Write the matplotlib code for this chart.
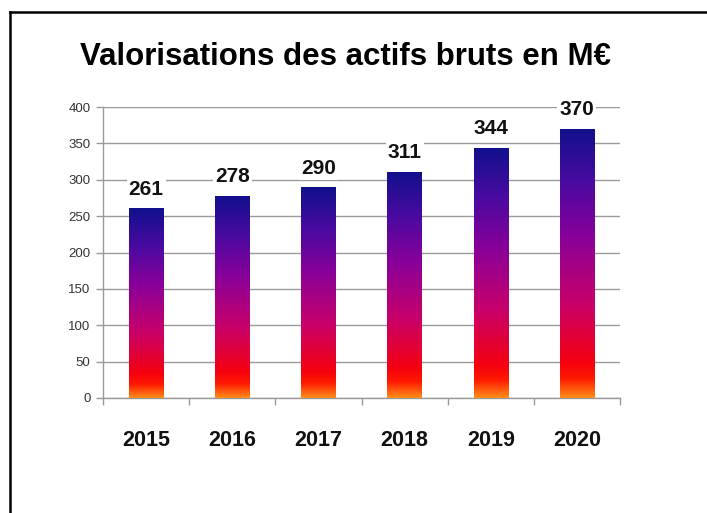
import numpy as np
import matplotlib
matplotlib.use("Agg")
import matplotlib.pyplot as plt
from matplotlib.colors import LinearSegmentedColormap
from matplotlib.lines import Line2D

years = ["2015", "2016", "2017", "2018", "2019", "2020"]
values = [261, 278, 290, 311, 344, 370]
title = "Valorisations des actifs bruts en M€"

W, H = 707, 513
fig = plt.figure(figsize=(W / 100, H / 100), dpi=100)
fig.patch.set_facecolor("white")

narrow = ["Liberation Sans Narrow", "Liberation Sans", "DejaVu Sans"]

ax = fig.add_axes([103 / W, 1 - 398 / H, 517 / W, 291 / H])
ax.set_xlim(-0.5, len(years) - 0.5)
ax.set_ylim(0, 400)

cmap = LinearSegmentedColormap.from_list(
    "grad",
    [(0.0, "#ff8c1a"), (0.07, "#ff1a00"), (0.13, "#f50010"),
     (0.35, "#c8006a"), (0.6, "#88009a"), (0.8, "#4a0aa0"), (1.0, "#10108c")],
)
grad = np.linspace(0, 1, 256).reshape(-1, 1)

x = np.arange(len(years))
bw = 0.4
bars = ax.bar(x, values, width=bw, color="none", edgecolor="none", zorder=3)
for b, v in zip(bars, values):
    im = ax.imshow(grad, cmap=cmap, origin="lower", aspect="auto",
                   extent=[b.get_x(), b.get_x() + b.get_width(), 0, v],
                   zorder=3, interpolation="bilinear")
    im.set_clip_path(b)
    ax.text(b.get_x() + b.get_width() / 2, v + 26, str(v), ha="center", va="center",
            fontsize=15, fontweight="bold", family=narrow, color="#111111", zorder=5,
            bbox=dict(facecolor="white", edgecolor="none", pad=1.5))
ax.set_xlim(-0.5, len(years) - 0.5)
ax.set_ylim(0, 400)

ax.set_yticks(np.arange(0, 401, 50))
ax.yaxis.grid(True, color="#9a9a9a", linewidth=1.0, zorder=0)
ax.set_axisbelow(True)
ax.tick_params(axis="y", length=5, width=1, color="#9a9a9a", pad=4,
               labelsize=9.5, labelcolor="#333333")
for lab in ax.get_yticklabels():
    lab.set_family(["Liberation Sans", "DejaVu Sans"])

ax.set_xticks(x)
ax.set_xticklabels(years, fontsize=15.5, fontweight="bold", family=narrow, color="#111111")
ax.tick_params(axis="x", which="major", length=0, pad=23)
ax.set_xticks(np.arange(-0.5, len(years), 1.0), minor=True)
ax.tick_params(axis="x", which="minor", length=5, width=1, color="#9a9a9a")

for s in ["top", "right"]:
    ax.spines[s].set_visible(False)
for s in ["left", "bottom"]:
    ax.spines[s].set_color("#9a9a9a")
    ax.spines[s].set_linewidth(1.0)

fig.text(346 / W, 1 - 57 / H, title, ha="center", va="center", fontsize=22.5,
         fontweight="bold", family=narrow, color="#000000")

# outer border (left and top edges visible)
fig.add_artist(Line2D([9.5 / W, 9.5 / W], [0, 1 - 12 / H], color="black", lw=1.8,
                      transform=fig.transFigure))
fig.add_artist(Line2D([9.5 / W, 1], [1 - 12 / H, 1 - 12 / H], color="black", lw=1.8,
                      transform=fig.transFigure))

fig.savefig("out.png", dpi=100)
